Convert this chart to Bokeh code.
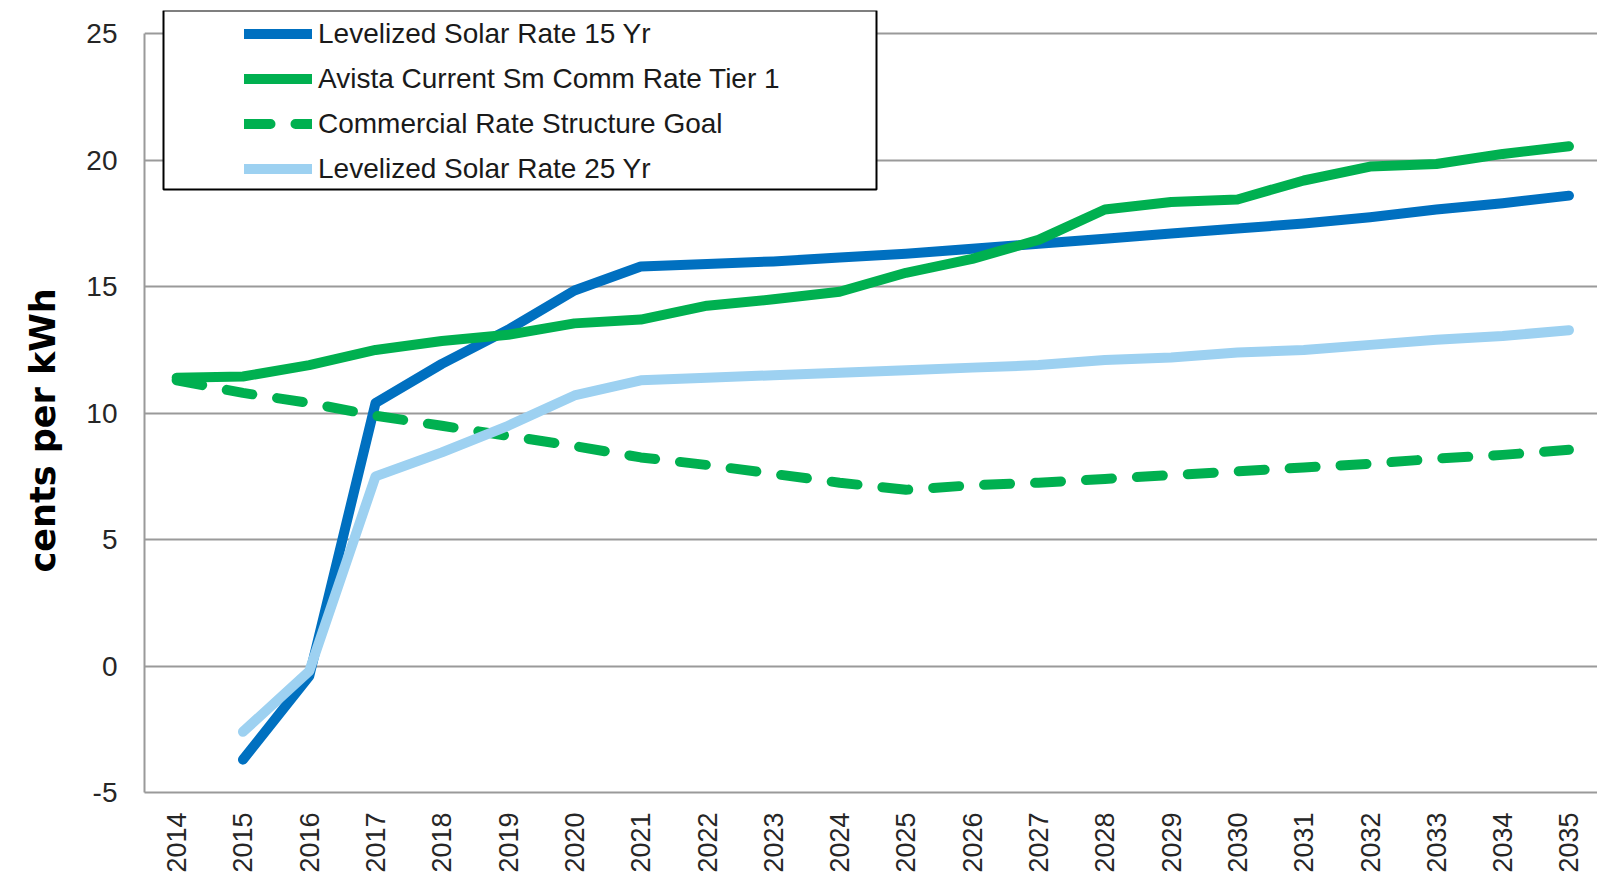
import math
from bokeh.plotting import figure
from bokeh.models import (Range1d, FixedTicker, Legend, LegendItem, BoxAnnotation,
                          ColumnDataSource, Title)
from bokeh.embed import file_html
from bokeh.resources import INLINE

years = list(range(2014, 2036))
nan = float("nan")

solar_15yr = [nan, -3.7, -0.4, 10.4, 11.95, 13.3, 14.85, 15.8, 15.9, 16.0, 16.15,
              16.3, 16.5, 16.7, 16.9, 17.1, 17.3, 17.5, 17.75, 18.05, 18.3, 18.6]
avista_tier1 = [11.4, 11.45, 11.9, 12.5, 12.85, 13.1, 13.55, 13.7, 14.25, 14.5, 14.8,
                15.55, 16.1, 16.85, 18.05, 18.35, 18.45, 19.2, 19.75, 19.85, 20.25, 20.55]
rate_goal = [11.3, 10.8, 10.4, 9.9, 9.5, 9.1, 8.7, 8.25, 7.95, 7.6, 7.25,
             6.97, 7.15, 7.25, 7.4, 7.55, 7.7, 7.85, 8.0, 8.2, 8.35, 8.55]
solar_25yr = [nan, -2.6, -0.2, 7.5, 8.45, 9.5, 10.7, 11.3, 11.4, 11.5, 11.6,
              11.7, 11.8, 11.9, 12.1, 12.2, 12.4, 12.5, 12.7, 12.9, 13.05, 13.28]

series_names = ["Levelized Solar Rate 15 Yr", "Avista Current Sm Comm Rate Tier 1",
                "Commercial Rate Structure Goal", "Levelized Solar Rate 25 Yr"]
series_colors = ["#0070C0", "#00B050", "#00B050", "#9DD1F1"]
series_dash = ["solid", "solid", "26 25", "solid"]
y_ticks = [-5, 0, 5, 10, 15, 20, 25]
y_title = "cents per kWh"

W, H = 1597, 879
border_left, border_top, border_bottom = 144, 10, 87
frame_h = H - border_top - border_bottom
px_per_unit_y = (792.0 - 33.3) / 30.0
px_per_unit_x = 66.3
frame_w = W - border_left
x_start = 2013.515

p = figure(width=W, height=H, output_backend="svg", toolbar_location=None,
           x_range=Range1d(x_start, x_start + frame_w / px_per_unit_x),
           y_range=Range1d(-5, -5 + frame_h / px_per_unit_y),
           min_border_left=border_left, min_border_top=border_top,
           min_border_bottom=border_bottom, min_border_right=0)
p.outline_line_color = None
p.background_fill_color = "white"
p.border_fill_color = "white"

src = ColumnDataSource(dict(year=years, s15=solar_15yr, av=avista_tier1,
                            goal=rate_goal, s25=solar_25yr))
renderers = []
for col, color, dash in zip(["s15", "av", "goal", "s25"], series_colors, series_dash):
    r = p.line("year", col, source=src, line_color=color, line_width=10,
               line_dash=dash, line_cap="round", line_join="round")
    renderers.append(r)

# grid
p.xgrid.visible = False
p.ygrid.ticker = FixedTicker(ticks=y_ticks)
p.ygrid.grid_line_color = "#9A9A9A"
p.ygrid.grid_line_width = 2

# y axis
ya = p.yaxis[0]
ya.ticker = FixedTicker(ticks=y_ticks)
ya.major_label_overrides = {t: str(t) for t in y_ticks}
ya.bounds = (-5, 25)
ya.axis_line_color = "#9A9A9A"
ya.axis_line_width = 2
ya.major_tick_line_color = None
ya.minor_tick_line_color = None
ya.major_tick_out = 0
ya.major_tick_in = 0
ya.major_label_standoff = 27
ya.major_label_text_font = "Liberation Sans"
ya.major_label_text_font_size = "28px"
ya.major_label_text_color = "#262626"

# y title as a side title, starting a little above the frame bottom as in the original
ytitle = Title(text=y_title, align="left", offset=220, standoff=38,
               vertical_align="top",
               text_font="DejaVu Sans", text_font_style="bold",
               text_font_size="35px", text_color="#000000")
p.add_layout(ytitle, "left")

# x axis
xa = p.xaxis[0]
xa.ticker = FixedTicker(ticks=years)
xa.major_label_overrides = {y: str(y) for y in years}
xa.major_label_orientation = math.pi / 2
xa.axis_line_color = "#9A9A9A"
xa.axis_line_width = 2
xa.major_tick_line_color = None
xa.minor_tick_line_color = None
xa.major_tick_out = 0
xa.major_tick_in = 0
xa.major_label_standoff = 20
xa.major_label_text_font = "Liberation Sans"
xa.major_label_text_font_size = "27px"
xa.major_label_text_color = "#262626"

# legend frame
box = BoxAnnotation(left=163, right=876, top=10, bottom=189,
                    left_units="canvas", right_units="canvas",
                    top_units="canvas", bottom_units="canvas",
                    fill_color="white", fill_alpha=1.0,
                    line_color="black", line_width=2, line_alpha=1.0)
p.add_layout(box)

legend = Legend(items=[LegendItem(label=n, renderers=[r]) for n, r in zip(series_names, renderers)],
                location=(100, 607), padding=0, margin=0, spacing=12,
                glyph_width=68, glyph_height=33, label_height=33,
                label_standoff=6, border_line_alpha=0, background_fill_alpha=0,
                label_text_font="Liberation Sans", label_text_font_size="28px",
                label_text_color="#1a1a1a")
p.add_layout(legend)

open("out.html", "w").write(file_html(p, INLINE))
